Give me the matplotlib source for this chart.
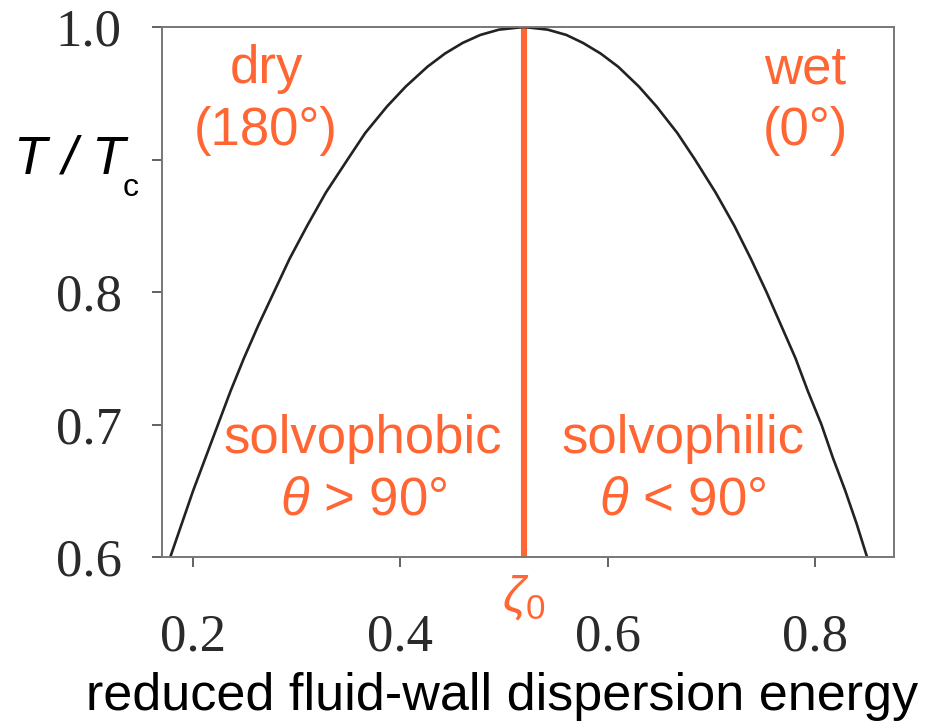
import matplotlib
matplotlib.use("Agg")
import matplotlib.pyplot as plt

# Reduced temperature vs. reduced fluid-wall dispersion energy
T_levels = [0.600, 0.625, 0.650, 0.675, 0.700, 0.725, 0.750, 0.775, 0.800,
            0.825, 0.850, 0.875, 0.900, 0.920, 0.940, 0.955, 0.970, 0.980,
            0.988, 0.994, 0.998]
x_left = [0.178, 0.189, 0.200, 0.212, 0.224, 0.236, 0.249, 0.263, 0.278,
          0.293, 0.310, 0.328, 0.349, 0.366, 0.387, 0.405, 0.426, 0.443,
          0.460, 0.477, 0.495]
x_right = [0.850, 0.840, 0.829, 0.817, 0.806, 0.793, 0.781, 0.767, 0.753,
           0.738, 0.722, 0.704, 0.684, 0.667, 0.647, 0.630, 0.610, 0.593,
           0.576, 0.560, 0.542]
zeta0 = 0.519
T_peak = 1.0

x_ticks = [0.2, 0.4, 0.6, 0.8]
x_ticklabels = ["0.2", "0.4", "0.6", "0.8"]
y_ticks = [0.6, 0.7, 0.8, 0.9, 1.0]
y_ticklabels = ["0.6", "0.7", "0.8", "", "1.0"]

xs = x_left + [zeta0] + x_right[::-1]
ys = T_levels + [T_peak] + T_levels[::-1]

orange = "#FF6633"
plt.rcParams["mathtext.fontset"] = "custom"
plt.rcParams["mathtext.it"] = "Liberation Sans:italic"
plt.rcParams["mathtext.rm"] = "Liberation Sans"

fig = plt.figure(figsize=(9.43, 7.25), dpi=100)
ax = fig.add_axes([162 / 943, 1 - 557 / 725, (894 - 162) / 943, (557 - 27) / 725])

ax.plot(xs, ys, color="#222222", lw=1.9, solid_joinstyle="round", zorder=3)
ax.plot([zeta0, zeta0], [0.6, 1.0], color=orange, lw=4.4, zorder=2)

ax.set_xlim(0.170, 0.876)
ax.set_ylim(0.6, 1.0)
ax.set_xticks(x_ticks)
ax.set_xticklabels(x_ticklabels)
ax.set_yticks(y_ticks)
ax.set_yticklabels(y_ticklabels)

for s in ax.spines.values():
    s.set_color("#777777")
    s.set_linewidth(1.4)
    s.set_zorder(4)

ax.tick_params(axis="both", direction="out", length=7, width=1.3, color="#555555",
               labelsize=38, labelcolor="#2a2a2a")
ax.tick_params(axis="x", pad=34)
ax.tick_params(axis="y", pad=22)
for lab in ax.get_xticklabels() + ax.get_yticklabels():
    lab.set_family("Liberation Serif")

sans = "Liberation Sans"
txt = dict(color=orange, fontsize=38, family=sans, ha="center", va="center",
           linespacing=1.3)
ax.text(0.2704, 0.945, "dry\n(180°)", **txt)
ax.text(0.7903, 0.945, "wet\n(0°)", **txt)
ax.text(0.364, 0.666, "solvophobic\n$\\theta$ > 90°", **txt)
ax.text(0.672, 0.666, "solvophilic\n$\\theta$ < 90°", **txt)

# zeta_0 marker under the axis
fig.text(524 / 943, 1 - 598 / 725, "$\\zeta_0$", color=orange, fontsize=36,
         ha="center", va="center")

# y-axis label T / Tc
fig.text(125 / 943, 1 - 173 / 725, "T / T", fontsize=39, family=sans,
         style="italic", ha="right", va="baseline", color="black")
fig.text(123 / 943, 1 - 196 / 725, "c", fontsize=23, family=sans,
         ha="left", va="baseline", color="black")

# x-axis label
fig.text(502 / 943, 1 - 710 / 725, "reduced fluid-wall dispersion energy",
         fontsize=37.5, family=sans, ha="center", va="baseline", color="black")

fig.savefig("out.png", dpi=100)
